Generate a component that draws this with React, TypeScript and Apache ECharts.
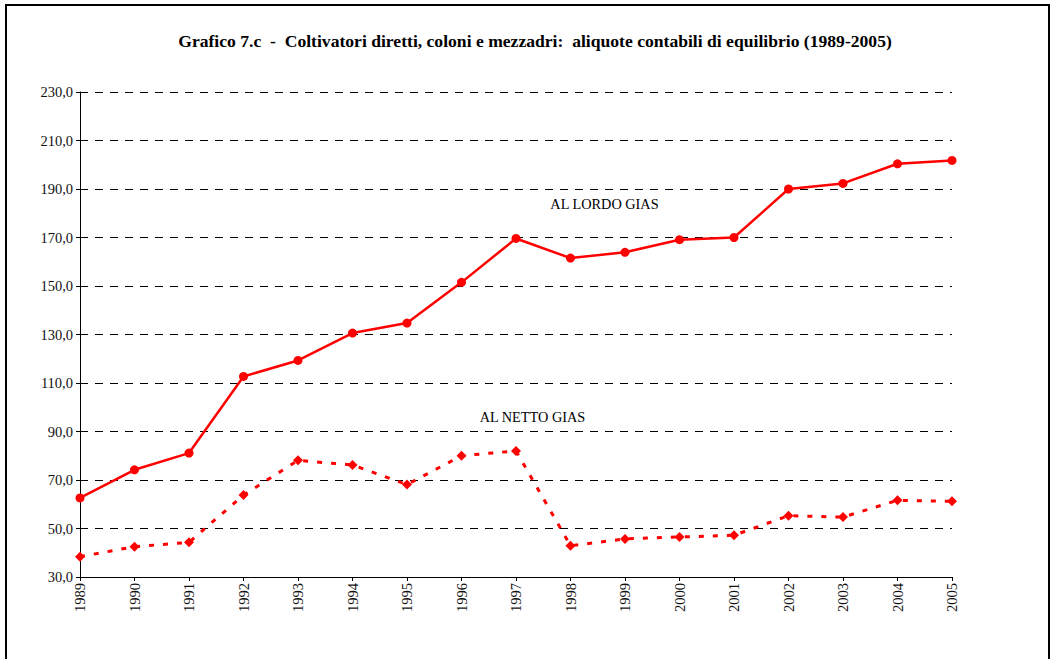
import React, { useEffect, useRef } from "react";
import * as echarts from "echarts";

const years = ["1989","1990","1991","1992","1993","1994","1995","1996","1997","1998","1999","2000","2001","2002","2003","2004","2005"];
const lordoGias = [62.6, 74.2, 81.1, 112.7, 119.3, 130.6, 134.7, 151.5, 169.6, 161.5, 163.9, 169.1, 170.0, 190.0, 192.3, 200.4, 201.8];
const nettoGias = [38.4, 42.5, 44.3, 63.8, 78.1, 76.2, 68.1, 80.0, 82.0, 42.9, 45.7, 46.5, 47.2, 55.3, 54.7, 61.6, 61.2];
const titleText = "Grafico 7.c  -  Coltivatori diretti, coloni e mezzadri:  aliquote contabili di equilibrio (1989-2005)";
const lordoLabel = "AL LORDO GIAS";
const nettoLabel = "AL NETTO GIAS";

const FONT = "Liberation Serif";

export default function App() {
  const ref = useRef<HTMLDivElement>(null);
  useEffect(() => {
    if (!ref.current) return;
    const chart = echarts.init(ref.current, undefined, { renderer: "svg" });
    chart.setOption({
      animation: false,
      backgroundColor: "#ffffff",
      textStyle: { fontFamily: FONT },
      grid: { left: 80, right: 104, top: 92, bottom: 82, containLabel: false },
      xAxis: {
        type: "category",
        data: years,
        boundaryGap: false,
        axisLine: { lineStyle: { color: "#000", width: 1 } },
        axisTick: { show: true, length: 4, alignWithLabel: true, lineStyle: { color: "#000" } },
        axisLabel: { rotate: 90, fontFamily: FONT, fontSize: 14.5, color: "#111", margin: 6 },
        splitLine: { show: false },
      },
      yAxis: {
        type: "value",
        min: 30,
        max: 230,
        interval: 20,
        axisLine: { show: true, lineStyle: { color: "#000", width: 1 } },
        axisTick: { show: true, length: 4, lineStyle: { color: "#000" } },
        axisLabel: {
          fontFamily: FONT,
          fontSize: 14.5,
          color: "#111",
          margin: 7,
          formatter: (v: number) => v.toFixed(1).replace(".", ","),
        },
        splitLine: { show: true, lineStyle: { color: "#000", type: [8, 7], width: 1 } },
      },
      series: [
        {
          name: lordoLabel,
          type: "line",
          data: lordoGias,
          symbol: "circle",
          symbolSize: 9,
          lineStyle: { color: "#ff0000", width: 2.5 },
          itemStyle: { color: "#ff0000" },
          z: 3,
        },
        {
          name: nettoLabel,
          type: "line",
          data: nettoGias,
          symbol: "diamond",
          symbolSize: 10,
          lineStyle: { color: "#ff0000", width: 3, type: [5, 9] },
          itemStyle: { color: "#ff0000" },
          z: 3,
        },
      ],
      graphic: [
        {
          type: "rect",
          shape: { x: 6, y: 5, width: 1043, height: 700 },
          style: { fill: "none", stroke: "#000", lineWidth: 2 },
          silent: true,
          z: 100,
        },
        {
          type: "text",
          x: 535,
          y: 41,
          style: { text: titleText, fontFamily: FONT, fontSize: 17.6, fontWeight: "bold", fill: "#000", align: "center", verticalAlign: "middle" },
        },
        {
          type: "text",
          x: 604.5,
          y: 203.5,
          style: { text: lordoLabel, fontFamily: FONT, fontSize: 14.3, fill: "#000", align: "center", verticalAlign: "middle" },
        },
        {
          type: "text",
          x: 532.5,
          y: 417,
          style: { text: nettoLabel, fontFamily: FONT, fontSize: 14.3, fill: "#000", align: "center", verticalAlign: "middle" },
        },
      ],
    });
    return () => chart.dispose();
  }, []);
  return <div ref={ref} style={{ position: "fixed", left: 0, top: 0, width: 1056, height: 659 }} />;
}
